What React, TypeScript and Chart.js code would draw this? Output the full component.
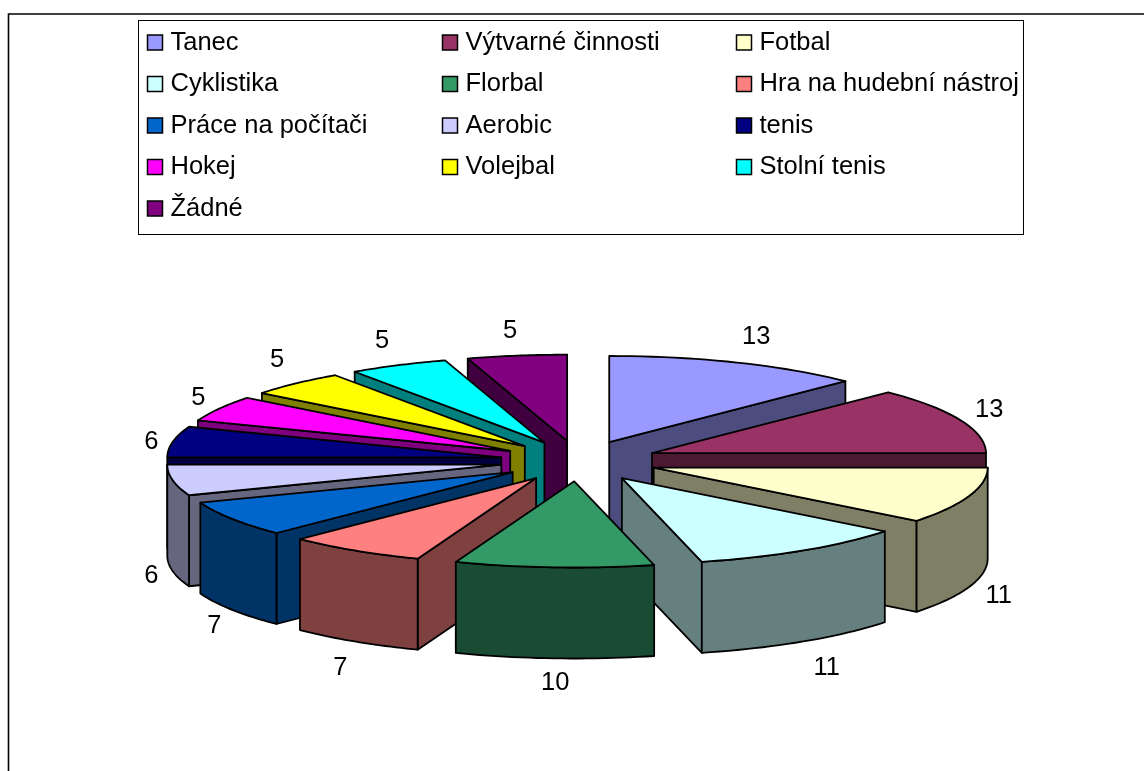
import React, { useEffect, useRef } from "react";
import { Chart, registerables } from "chart.js";

Chart.register(...registerables);

const categories = [
  "Tanec", "Výtvarné činnosti", "Fotbal", "Cyklistika", "Florbal",
  "Hra na hudební nástroj", "Práce na počítači", "Aerobic", "tenis",
  "Hokej", "Volejbal", "Stolní tenis", "Žádné",
];
const values = [13, 13, 11, 11, 10, 7, 7, 6, 6, 5, 5, 5, 5];
const topColors = [
  "#9999FF", "#993366", "#FFFFCC", "#CCFFFF", "#339966", "#FF8080", "#0066CC",
  "#CCCCFF", "#000080", "#FF00FF", "#FFFF00", "#00FFFF", "#800080",
];
const wallColors = [
  "#4C4C7F", "#4C1933", "#7F7F66", "#667F7F", "#1A4C33", "#7F4040", "#003366",
  "#66667F", "#000040", "#7F007F", "#7F7F00", "#007F7F", "#400040",
];
const labelNudgeX = [7, -1, -1, 6, 3, 3, 9, 10, 10, 7, 3, -2, -2];
const labelNudgeY = [-6, -3, 0, 6, 1, 6, 2, -1, 3, -1, -8, -5, -4];

const FONT = '25.5px "Liberation Sans", Arial, sans-serif';
const CENTER_X = 579;
const CENTER_Y = 461;
const SQUASH = 0.258;
const RADIUS = 334;
const EXPLODE = 79;
const DEPTH = 91;
const EDGE = 1.8;
const LABEL_CENTER_Y = 462;
const LABEL_DEPTH = 92;
const LABEL_DIST = 445;
const LABEL_PUSH = 13;
const LEGEND = {
  left: 138.5, top: 20.5, right: 1023.5, bottom: 234.5,
  columns: [147.5, 442.5, 736.5], textGap: 23,
  firstRow: 42.5, rowStep: 41.5, swatch: 15,
};

function sliceOutline(arc: any) {
  const mid = (arc.startAngle + arc.endAngle) / 2;
  const ax = CENTER_X + Math.cos(mid) * EXPLODE;
  const ay = CENTER_Y + Math.sin(mid) * EXPLODE * SQUASH;
  const rim: [number, number][] = [];
  const steps = 24;
  for (let i = 0; i <= steps; i++) {
    const a = arc.startAngle + ((arc.endAngle - arc.startAngle) * i) / steps;
    rim.push([ax + Math.cos(a) * arc.outerRadius, ay + Math.sin(a) * arc.outerRadius * SQUASH]);
  }
  return { apex: [ax, ay] as [number, number], rim };
}

function drawWall(ctx: CanvasRenderingContext2D, line: [number, number][]) {
  ctx.beginPath();
  line.forEach(([x, y], k) => (k ? ctx.lineTo(x, y) : ctx.moveTo(x, y)));
  for (let k = line.length - 1; k >= 0; k--) ctx.lineTo(line[k][0], line[k][1] + DEPTH);
  ctx.closePath();
  ctx.fill();
  ctx.stroke();
}

const pie3d = {
  id: "pie3d",
  beforeDraw(chart: any) {
    const { ctx, width, height } = chart;
    ctx.save();
    ctx.fillStyle = "#fff";
    ctx.fillRect(0, 0, width, height);
    ctx.strokeStyle = "#000";
    ctx.lineWidth = 1.6;
    ctx.beginPath();
    ctx.moveTo(8.5, height + 2);
    ctx.lineTo(8.5, 14);
    ctx.lineTo(width + 2, 14);
    ctx.stroke();
    ctx.restore();
  },
  beforeDatasetDraw(chart: any, args: any) {
    const { ctx } = chart;
    const arcs = [...args.meta.data].map((arc: any, i: number) => ({ arc, i }));
    arcs.sort((p: any, q: any) =>
      Math.sin((p.arc.startAngle + p.arc.endAngle) / 2) -
      Math.sin((q.arc.startAngle + q.arc.endAngle) / 2));
    ctx.save();
    ctx.lineJoin = "round";
    ctx.strokeStyle = "#000";
    ctx.lineWidth = EDGE;
    for (const { arc, i } of arcs) {
      const { apex, rim } = sliceOutline(arc);
      const first = rim[0];
      const last = rim[rim.length - 1];
      ctx.fillStyle = wallColors[i];
      // radial walls whose faces turn towards the viewer
      if (first[0] < apex[0]) drawWall(ctx, [apex, first]);
      if (apex[0] < last[0]) drawWall(ctx, [last, apex]);
      // outer wall: the run of the rim that moves leftwards on screen
      const run: [number, number][] = [];
      for (let k = 0; k < rim.length; k++) {
        const leaving = k < rim.length - 1 && rim[k + 1][0] < rim[k][0];
        const arriving = k > 0 && rim[k][0] < rim[k - 1][0];
        if (leaving || arriving) run.push(rim[k]);
      }
      if (run.length > 1) drawWall(ctx, run);
      // top face, drawn by the arc element itself in a squashed space
      const mid = (arc.startAngle + arc.endAngle) / 2;
      ctx.save();
      ctx.translate(CENTER_X, CENTER_Y);
      ctx.scale(1, SQUASH);
      ctx.translate(Math.cos(mid) * EXPLODE, Math.sin(mid) * EXPLODE);
      ctx.translate(-arc.x, -arc.y);
      arc.draw(ctx);
      ctx.restore();
      ctx.beginPath();
      ctx.moveTo(apex[0], apex[1]);
      rim.forEach(([x, y]) => ctx.lineTo(x, y));
      ctx.closePath();
      ctx.stroke();
    }
    ctx.restore();
    return false;
  },
  afterDraw(chart: any) {
    const { ctx } = chart;
    const meta = chart.getDatasetMeta(0);
    ctx.save();
    ctx.font = FONT;
    ctx.fillStyle = "#000";
    ctx.textBaseline = "middle";
    ctx.textAlign = "center";
    meta.data.forEach((arc: any, i: number) => {
      const mid = (arc.startAngle + arc.endAngle) / 2;
      const c = Math.cos(mid);
      const s = Math.sin(mid);
      const front = s > -0.05;
      const x = CENTER_X + c * LABEL_DIST + labelNudgeX[i];
      const y = LABEL_CENTER_Y + s * LABEL_DIST * 0.26
        + (front ? LABEL_DEPTH + LABEL_PUSH * Math.max(s, 0) : -LABEL_PUSH * Math.max(-s, 0))
        + labelNudgeY[i];
      ctx.fillText(String(values[i]), x, y);
    });
    // legend
    ctx.strokeStyle = "#000";
    ctx.lineWidth = 1;
    ctx.strokeRect(LEGEND.left, LEGEND.top, LEGEND.right - LEGEND.left, LEGEND.bottom - LEGEND.top);
    ctx.textAlign = "left";
    categories.forEach((name, i) => {
      const col = LEGEND.columns[i % 3];
      const y = LEGEND.firstRow + LEGEND.rowStep * Math.floor(i / 3);
      ctx.fillStyle = topColors[i];
      ctx.fillRect(col, y - LEGEND.swatch / 2, LEGEND.swatch, LEGEND.swatch);
      ctx.lineWidth = 1.5;
      ctx.strokeRect(col, y - LEGEND.swatch / 2, LEGEND.swatch, LEGEND.swatch);
      ctx.fillStyle = "#000";
      ctx.fillText(name, col + LEGEND.textGap, y);
    });
    ctx.restore();
  },
};

export default function App() {
  const ref = useRef<HTMLCanvasElement>(null);
  useEffect(() => {
    const chart = new Chart(ref.current as HTMLCanvasElement, {
      type: "pie",
      data: {
        labels: categories,
        datasets: [{
          data: values,
          backgroundColor: topColors,
          borderWidth: 0,
          offset: 0,
          radius: RADIUS,
          clip: false,
        } as any],
      },
      options: {
        responsive: false,
        animation: false,
        events: [],
        plugins: { legend: { display: false }, tooltip: { enabled: false } },
      },
      plugins: [pie3d],
    } as any);
    return () => chart.destroy();
  }, []);
  return (
    <div style={{ position: "fixed", left: 0, top: 0, width: 1144, height: 771, overflow: "hidden", background: "#fff" }}>
      <canvas ref={ref} width={1144} height={771} style={{ display: "block" }} />
    </div>
  );
}
